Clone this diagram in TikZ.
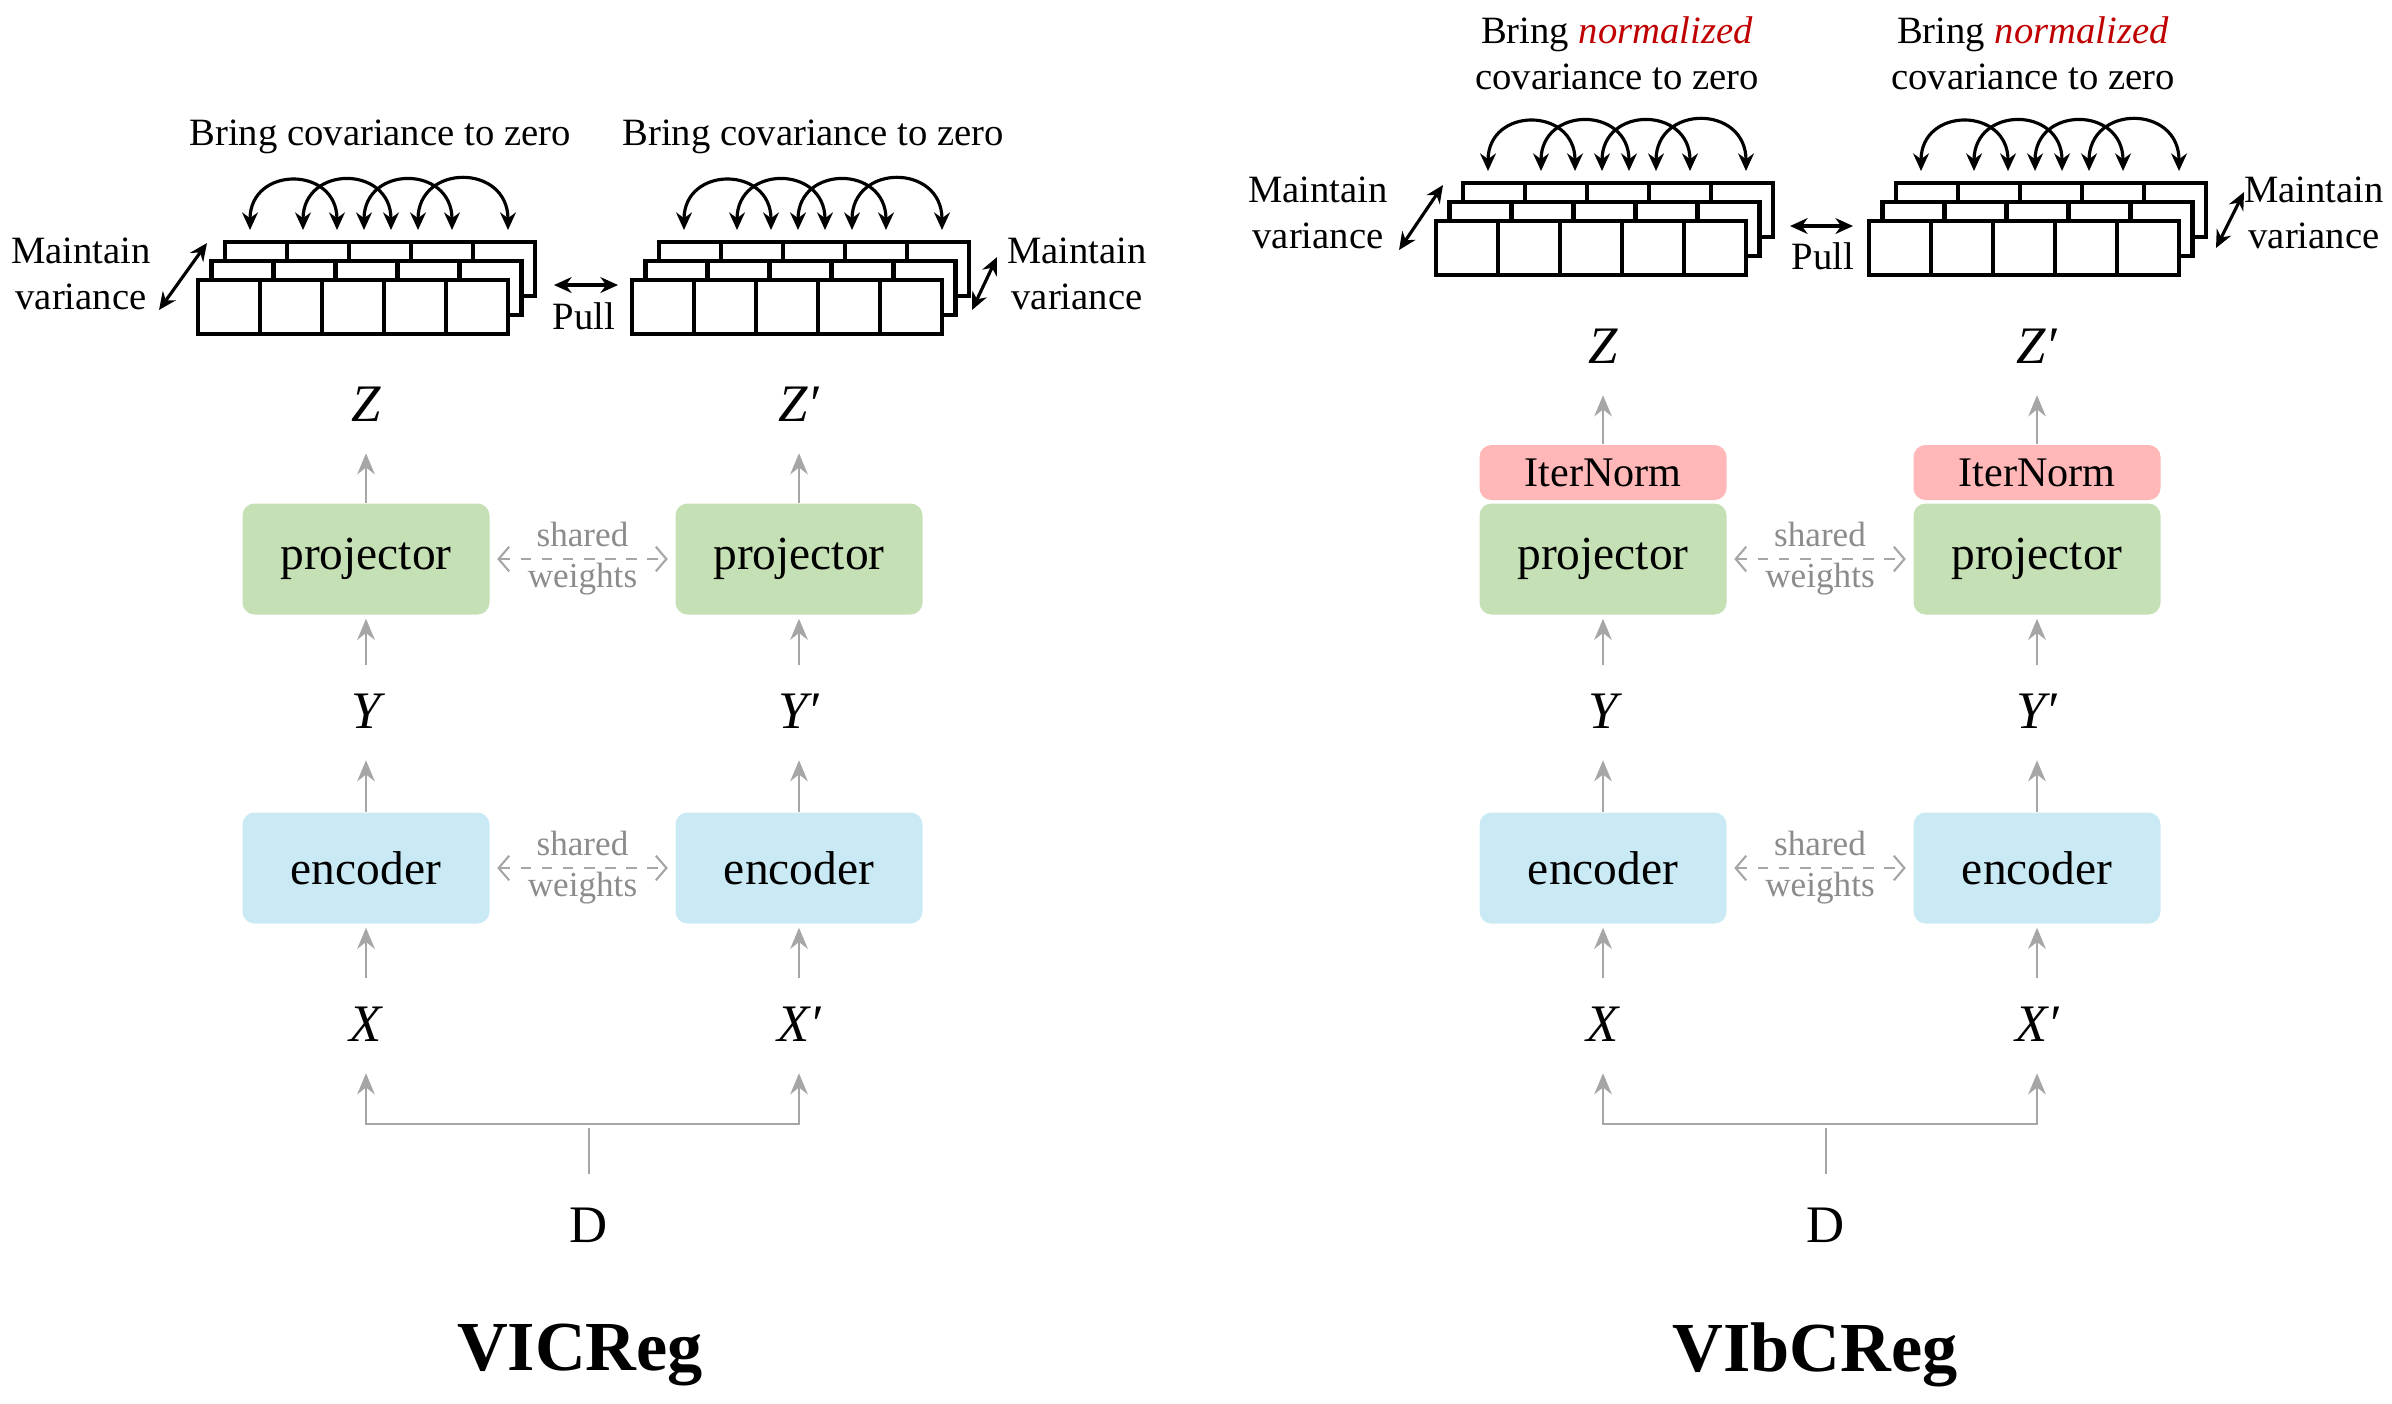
\documentclass[tikz,border=0pt]{standalone}
\usepackage{fontspec}
\setmainfont{Liberation Serif}
\usetikzlibrary{arrows.meta}

\definecolor{projgreen}{HTML}{C5E0B4}
\definecolor{encblue}{HTML}{C9E9F4}
\definecolor{normpink}{HTML}{FFB7B7}
\definecolor{flowgray}{HTML}{A6A6A6}
\definecolor{textgray}{HTML}{8C8C8C}
\definecolor{normred}{HTML}{C00000}

\begin{document}
\begin{tikzpicture}[x=0.1mm,y=-0.1mm,
	block/.style={shape=rectangle,rounded corners=1.2mm,minimum width=24.7mm,minimum height=11.1mm,font=\fontsize{13.5}{16}\selectfont},
	proj/.style={block,fill=projgreen},
	enc/.style={block,fill=encblue},
	norm/.style={block,fill=normpink,minimum height=5.5mm,font=\fontsize{12}{14}\selectfont},
	var/.style={minimum height=9mm,inner sep=0pt,font=\fontsize{15}{18}\selectfont\itshape},
	src/.style={minimum height=10mm,inner sep=0pt,font=\fontsize{15}{18}\selectfont},
	title/.style={font=\fontsize{20}{24}\selectfont\bfseries},
	flow/.style={draw=flowgray,line width=0.8pt,-{Stealth[length=6pt,width=5pt]},shorten >=1pt},
	share/.style={draw=flowgray,dashed,line width=0.6pt,{Straight Barb[length=3pt,width=7pt]}-{Straight Barb[length=3pt,width=7pt]},shorten <=2pt,shorten >=2pt},
	sharetext/.style={text=textgray,align=center,font=\fontsize{10}{11.7}\selectfont},
	note/.style={align=center,font=\fontsize{11}{13}\selectfont},
	pair/.style={draw=black,line width=0.9pt,{Stealth[length=5pt,width=4.5pt]}-{Stealth[length=5pt,width=4.5pt]}},
	layer/.style={draw=black,fill=white,line width=1.2pt},
	cell/.style={draw=black,line width=1.2pt}]
	\useasboundingbox (0,0) rectangle (2392,1403);

	\foreach \sx/\sy in {198/280,632/280,1436/221,1869/221}{
		\foreach \dx/\dy in {27/38,13.5/19,0/0}{
			\draw[layer] (\sx+\dx,\sy-\dy) rectangle ++(310,54);
			\foreach \c in {62,124,186,248}
				\draw[cell] (\sx+\dx+\c,\sy-\dy) -- ++(0,54);
		}
		\foreach \a/\b in {52/139,105/193,166/254,220/310}
			\draw[pair] (\sx+\a,\sy-50) to[out=90,in=90,looseness=1.9] (\sx+\b,\sy-50);
	}

	\node[note] (covL)  at (380,137) {Bring covariance to zero};
	\node[note] (covLp) at (813,137) {Bring covariance to zero};
	\node[note] (mvL)   at (81,274)   {Maintain\\variance};
	\node[note] (mvLp)  at (1077,274) {Maintain\\variance};
	\node[note] (pullL) at (584,316) {Pull};
	\coordinate (mvLa)  at (159,310);
	\coordinate (mvLb)  at (207,243);
	\coordinate (mvLpa) at (972,310);
	\coordinate (mvLpb) at (997,257);
	\coordinate (pullLa) at (554,285);
	\coordinate (pullLb) at (618,285);
	\draw[pair] (mvLa) -- (mvLb);
	\draw[pair] (mvLpa) -- (mvLpb);
	\draw[pair] (pullLa) -- (pullLb);

	\node[var]  (zL)    at (366,404)  {Z};
	\node[var]  (zLp)   at (799,404)  {Z′};
	\node[proj] (projL) at (366,559)  {projector};
	\node[proj] (projLp) at (799,559) {projector};
	\node[var]  (yL)    at (366,711)  {Y};
	\node[var]  (yLp)   at (799,711)  {Y′};
	\node[enc]  (encL)  at (366,868)  {encoder};
	\node[enc]  (encLp) at (799,868)  {encoder};
	\node[var]  (xL)    at (366,1024) {X};
	\node[var]  (xLp)   at (799,1024) {X′};
	\node[src]  (dL)    at (589,1225) {D};
	\coordinate (forkL) at (589,1124);
	\node[title] (vicreg) at (580,1355) {VICReg};

	\draw[flow] (projL) -- (zL);
	\draw[flow] (projLp) -- (zLp);
	\draw[flow] (yL) -- (projL);
	\draw[flow] (yLp) -- (projLp);
	\draw[flow] (encL) -- (yL);
	\draw[flow] (encLp) -- (yLp);
	\draw[flow] (xL) -- (encL);
	\draw[flow] (xLp) -- (encLp);
	\draw[flow,-] (dL) -- (forkL);
	\draw[flow] (forkL) -| (xL);
	\draw[flow] (forkL) -| (xLp);
	\draw[share] (projL) -- (projLp) node[midway,sharetext] (swP) {shared\\weights};
	\draw[share] (encL) -- (encLp) node[midway,sharetext] (swE) {shared\\weights};

	\node[note] (covR)  at (1617,53) {Bring \textcolor{normred}{\textit{normalized}}\\covariance to zero};
	\node[note] (covRp) at (2033,53) {Bring \textcolor{normred}{\textit{normalized}}\\covariance to zero};
	\node[note] (mvR)   at (1318,213) {Maintain\\variance};
	\node[note] (mvRp)  at (2314,213) {Maintain\\variance};
	\node[note] (pullR) at (1823,256) {Pull};
	\coordinate (mvRa)  at (1399,250);
	\coordinate (mvRb)  at (1443,185);
	\coordinate (mvRpa) at (2216,248);
	\coordinate (mvRpb) at (2244,192);
	\coordinate (pullRa) at (1790,226);
	\coordinate (pullRb) at (1853,226);
	\draw[pair] (mvRa) -- (mvRb);
	\draw[pair] (mvRpa) -- (mvRpb);
	\draw[pair] (pullRa) -- (pullRb);

	\node[var]  (zR)    at (1603,346)  {Z};
	\node[var]  (zRp)   at (2037,346)  {Z′};
	\node[norm] (normR) at (1603,472.5) {IterNorm};
	\node[norm] (normRp) at (2037,472.5) {IterNorm};
	\node[proj] (projR) at (1603,559)  {projector};
	\node[proj] (projRp) at (2037,559) {projector};
	\node[var]  (yR)    at (1603,711)  {Y};
	\node[var]  (yRp)   at (2037,711)  {Y′};
	\node[enc]  (encR)  at (1603,868)  {encoder};
	\node[enc]  (encRp) at (2037,868)  {encoder};
	\node[var]  (xR)    at (1603,1024) {X};
	\node[var]  (xRp)   at (2037,1024) {X′};
	\node[src]  (dR)    at (1826,1225) {D};
	\coordinate (forkR) at (1826,1124);
	\node[title] (vibcreg) at (1815,1355) {VIbCReg};

	\draw[flow] (normR) -- (zR);
	\draw[flow] (normRp) -- (zRp);
	\draw[flow] (yR) -- (projR);
	\draw[flow] (yRp) -- (projRp);
	\draw[flow] (encR) -- (yR);
	\draw[flow] (encRp) -- (yRp);
	\draw[flow] (xR) -- (encR);
	\draw[flow] (xRp) -- (encRp);
	\draw[flow,-] (dR) -- (forkR);
	\draw[flow] (forkR) -| (xR);
	\draw[flow] (forkR) -| (xRp);
	\draw[share] (projR) -- (projRp) node[midway,sharetext] (swPR) {shared\\weights};
	\draw[share] (encR) -- (encRp) node[midway,sharetext] (swER) {shared\\weights};
\end{tikzpicture}
\end{document}
